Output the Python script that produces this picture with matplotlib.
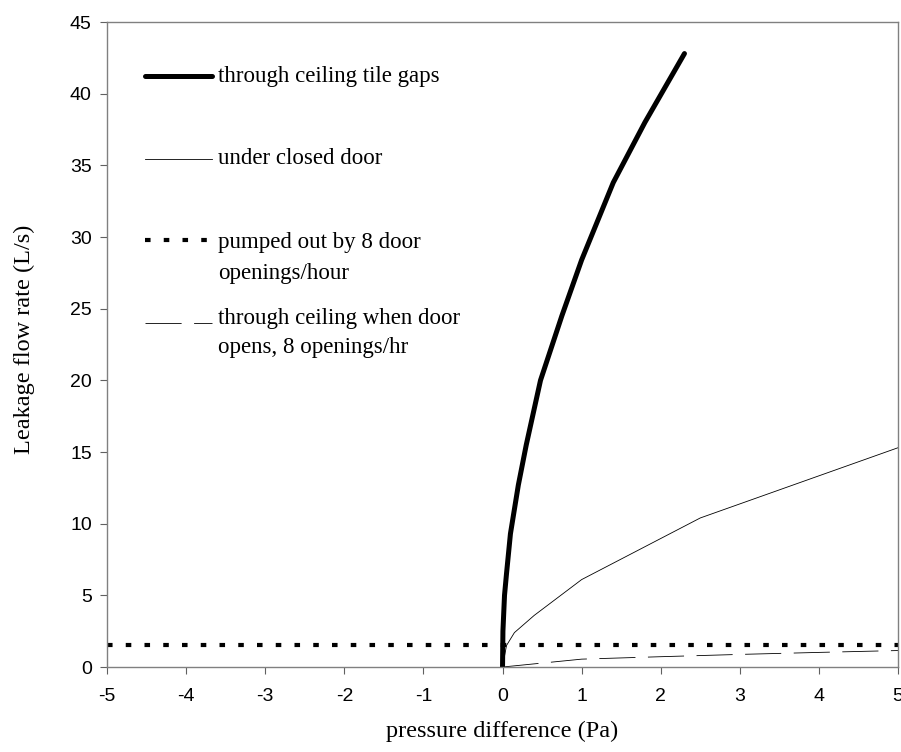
import matplotlib
matplotlib.use("Agg")
import matplotlib.pyplot as plt

plt.rcParams['lines.scale_dashes'] = False
plt.rcParams['axes.unicode_minus'] = False

# through ceiling tile gaps
tile_x = [0.0, 0.005, 0.025, 0.05, 0.1, 0.2, 0.3, 0.48, 0.75, 1.0, 1.4, 1.8, 2.3]
tile_y = [0.0, 2.5, 5.0, 6.5, 9.3, 12.7, 15.5, 20.0, 24.5, 28.4, 33.8, 38.0, 42.8]

# under closed door
door_x = [0.0, 0.05, 0.15, 0.4, 1.0, 2.5, 5.0]
door_y = [0.0, 1.5, 2.4, 3.6, 6.1, 10.4, 15.3]

# pumped out by 8 door openings/hour
pump_x = [-5.0, 5.0]
pump_y = [1.55, 1.55]

# through ceiling when door opens
open_x = [0.0, 1.0, 2.0, 3.0, 4.0, 5.0]
open_y = [0.0, 0.55, 0.72, 0.88, 1.02, 1.15]

legend_labels = [["through ceiling tile gaps"],
                 ["under closed door"],
                 ["pumped out by 8 door", "openings/hour"],
                 ["through ceiling when door", "opens, 8 openings/hr"]]

serif = "Liberation Serif"
sans = "Liberation Sans"

fig = plt.figure(figsize=(9.01, 7.52), dpi=100)
ax = fig.add_axes([0.1188, 0.113, 0.8779, 0.8577])

styles = [
    dict(color="black", lw=3.6, solid_capstyle="round"),
    dict(color="black", lw=0.6),
    dict(color="black", lw=3.0, dashes=(4, 9.5)),
    dict(color="black", lw=0.6, dashes=(26, 9)),
]

ax.plot(tile_x, tile_y, **styles[0])
ax.plot(door_x, door_y, **styles[1])
ax.plot(pump_x, pump_y, **styles[2])
ax.plot(open_x, open_y, **styles[3])

# hand-drawn legend inside the plot area
leg_line_y = [41.2, 35.45, 29.8, 24.0]
leg_text_y = [[41.2], [35.45], [29.65, 27.45], [24.35, 22.3]]
for st, labs, ly, tys in zip(styles, legend_labels, leg_line_y, leg_text_y):
    ax.plot([-4.52, -3.67], [ly, ly], **st)
    for lab, ty in zip(labs, tys):
        ax.text(-3.6, ty, lab, family=serif, fontsize=16.5, va="center", ha="left")

ax.set_xlim(-5, 5)
ax.set_ylim(0, 45)
ax.set_xticks(range(-5, 6))
ax.set_yticks(range(0, 46, 5))
for sp in ax.spines.values():
    sp.set_color("#808080")
    sp.set_linewidth(1.0)
ax.tick_params(axis="both", direction="out", length=5, width=0.8, color="#606060",
               labelsize=14)
ax.tick_params(axis="x", pad=10)
ax.tick_params(axis="y", pad=6)
for lbl in ax.get_xticklabels() + ax.get_yticklabels():
    lbl.set_family(sans)

ax.set_xlabel("pressure difference (Pa)", family=serif, fontsize=17.5)
ax.set_ylabel("Leakage flow rate (L/s)", family=serif, fontsize=17.5)
ax.xaxis.set_label_coords(0.5, -0.083)
ax.yaxis.set_label_coords(-0.091, 0.508)

fig.savefig("out.png", dpi=100)
